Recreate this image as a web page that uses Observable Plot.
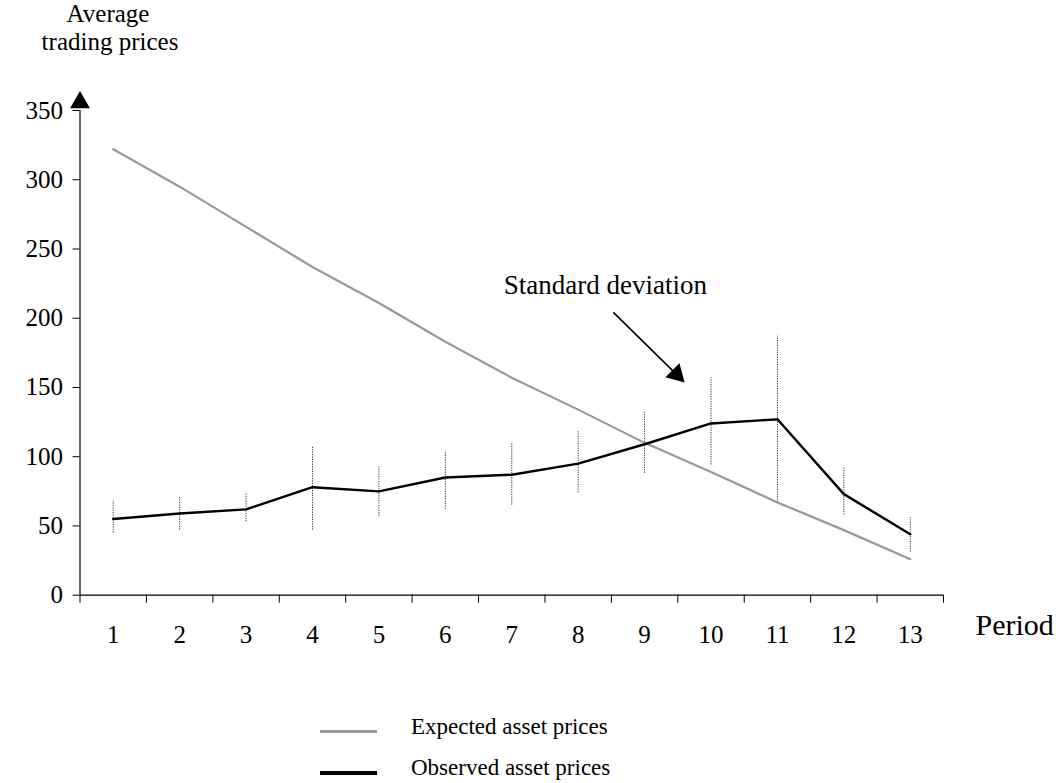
<!DOCTYPE html>
<html><head><meta charset="utf-8">
<script src="https://cdn.jsdelivr.net/npm/d3@7"></script>
<script src="https://cdn.jsdelivr.net/npm/@observablehq/plot@0.6"></script>
<style>
body{margin:0;background:#fff;font-family:"Liberation Serif","Times New Roman",serif;}
#wrap{position:relative;width:1061px;height:783px;overflow:hidden;}
.leg{position:absolute;font-size:23px;color:#000;line-height:24px;}
.sw{position:absolute;height:0;}
.ytitle{position:absolute;font-size:25px;color:#000;line-height:29px;text-align:center;width:200px;}
</style></head><body><div id="wrap"></div>
<script>
const periods = [1,2,3,4,5,6,7,8,9,10,11,12,13];
const expected = [322,295,266,237,211,183,157,134,110,89,67,47,26];
const observed = [55,59,62,78,75,85,87,95,109,124,127,73,44];
const sdLow = [45,47,53,47,57,62,65,74,88,94,67,58,31];
const sdHigh = [68,71,74,107,93,104,110,118,132,157,187,92,56];
const yTicks = [0,50,100,150,200,250,300,350];
const bandEdges = [0.5,1.5,2.5,3.5,4.5,5.5,6.5,7.5,8.5,9.5,10.5,11.5,12.5,13.5];
const seriesNames = ["Expected asset prices","Observed asset prices"];
const seriesColors = ["#999999","#000000"];
const titleLines = ["Average","trading prices"];

const rows = periods.map((p,i)=>({period:p, expected:expected[i], observed:observed[i], lo:sdLow[i], hi:sdHigh[i]}));
const font = '"Liberation Serif","Times New Roman",serif';

const chart = Plot.plot({
  width:1061, height:680,
  marginLeft:79.5, marginRight:118, marginTop:110, marginBottom:85.3,
  x:{type:"linear", domain:[0.5,13.5]},
  y:{domain:[0,350]},
  style:{fontFamily:font, fontSize:"25px", color:"#000", background:"white", overflow:"visible"},
  marks:[
    Plot.axisY({ticks:yTicks, tickSize:7, tickPadding:10, label:null, fontSize:25, stroke:"#000"}),
    Plot.axisX({ticks:periods, tickSize:0, tickPadding:30, label:null, fontSize:25}),
    Plot.axisX({ticks:bandEdges, tickSize:8, tickFormat:()=>"", label:null, stroke:"#000"}),
    Plot.ruleY([0], {x1:0.5, x2:13.5, stroke:"#000", strokeWidth:1.2}),
    Plot.ruleX([0.5], {y1:0, y2:350, stroke:"#000", strokeWidth:1.2}),
    Plot.dot([{x:0.5,y:350}], {x:"x", y:"y", symbol:"triangle", r:7.4, fill:"#000", stroke:null, dy:-8}),
    Plot.ruleX(rows, {x:"period", y1:"lo", y2:"hi", stroke:"#333", strokeWidth:1, strokeDasharray:"1.2,1.2"}),
    Plot.line(rows, {x:"period", y:"expected", stroke:seriesColors[0], strokeWidth:2.2}),
    Plot.line(rows, {x:"period", y:"observed", stroke:seriesColors[1], strokeWidth:2.4}),
    Plot.text(["Standard deviation"], {x:8.41, y:224, text:d=>d, fontSize:27, textAnchor:"middle", lineAnchor:"middle"}),
    Plot.link([{x1:8.53,y1:204.2,x2:9.48,y2:159.5}], {x1:"x1",y1:"y1",x2:"x2",y2:"y2", stroke:"#000", strokeWidth:1.6}),
    Plot.dot([{x:9.48,y:159.5}], {x:"x", y:"y", symbol:"triangle", r:7.4, fill:"#000", stroke:null, rotate:135}),
    Plot.text(["Period"], {x:13.5, y:0, text:d=>d, dx:32, dy:30, textAnchor:"start", lineAnchor:"middle", fontSize:30})
  ]
});
const wrap = document.getElementById("wrap");
wrap.appendChild(chart);

// Two-line y-axis title above the plot
titleLines.forEach((line,i)=>{
  const t = document.createElement("div");
  t.className = "ytitle";
  t.style.left = (i===0 ? 8 : 10) + "px";
  t.style.top = (i===0 ? -1 : 27) + "px";
  t.textContent = line;
  wrap.appendChild(t);
});

seriesNames.forEach((name,i)=>{
  const sw = document.createElement("div");
  sw.className = "sw";
  sw.style.left = "320px"; sw.style.width = "57px";
  sw.style.top = (i===0 ? 730 : 771) + "px";
  sw.style.borderTop = (i===0 ? 3 : 4) + "px solid " + seriesColors[i];
  wrap.appendChild(sw);
  const t = document.createElement("div");
  t.className = "leg";
  t.style.left = "411px";
  t.style.top = (i===0 ? 715 : 756) + "px";
  t.textContent = name;
  wrap.appendChild(t);
});
</script></body></html>
